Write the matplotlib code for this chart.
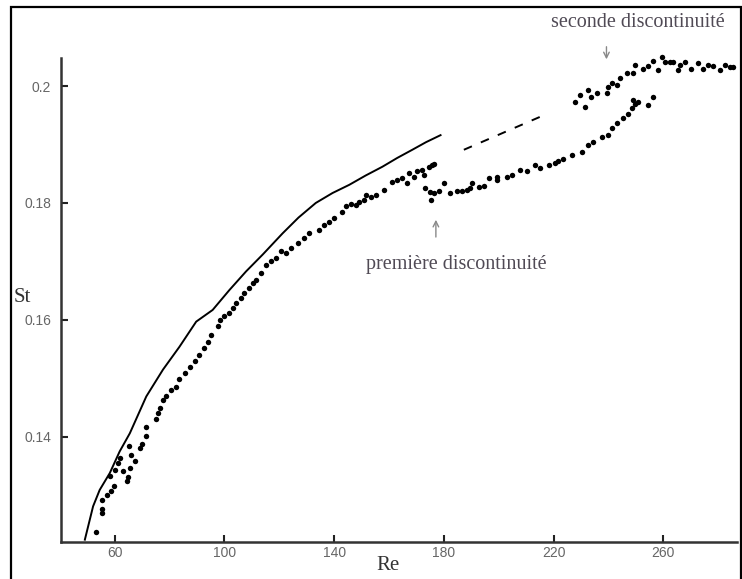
import matplotlib.pyplot as plt
from matplotlib.patches import Rectangle

# solid curve (numerical / fit)
re_line = [49.1, 52.1, 54.5, 58.2, 61.8, 65.5, 71.5, 77.6, 83.6, 89.7, 95.7, 101.8,
           107.9, 114.0, 121.2, 127.0, 133.3, 139.4, 145.5, 151.5, 157.6, 163.0,
           168.5, 173.5, 178.8]
st_line = [0.1224, 0.1281, 0.1309, 0.1338, 0.1375, 0.1406, 0.1469, 0.1515, 0.1554,
           0.1597, 0.1617, 0.1651, 0.1683, 0.1712, 0.1748, 0.1775, 0.1800, 0.1817,
           0.1831, 0.1847, 0.1862, 0.1877, 0.1891, 0.1904, 0.1916]

# dashed segment
re_dash = [187.3, 216.4]
st_dash = [0.1891, 0.1950]

# measured points
re_pts = [53.1, 55.4, 55.4, 55.2, 57.0, 58.8, 59.6, 58.4, 60.0, 61.2, 61.8, 63.0,
          64.3, 64.8, 65.5, 67.3, 66.1, 65.2, 69.1, 70.1, 71.5, 71.5, 74.9, 75.7,
          76.4, 77.6, 78.8, 80.6, 82.4, 83.6, 85.5, 87.3, 89.1, 90.9, 92.7, 93.9,
          95.2, 97.6, 98.2, 100.0, 101.8, 103.0, 104.2, 106.1, 107.3, 109.1, 110.3,
          111.5, 113.4, 115.2, 117.0, 118.8, 120.6, 122.4, 124.2, 126.7, 129.1,
          130.9, 134.5, 136.4, 138.2, 140.0, 143.0, 144.3, 146.1, 147.9, 149.1,
          150.9, 151.5, 153.3, 155.2, 158.2, 161.2, 163.0, 164.8, 166.6, 167.3,
          169.1, 170.3, 172.1, 172.7, 174.5, 175.8, 176.4,
          173.3, 175.1, 175.5, 176.4, 178.2, 180.0, 182.4, 184.8, 186.6, 188.5,
          189.7, 190.3, 192.7, 194.5, 196.4, 199.4, 199.4, 203.0, 204.8, 207.9,
          210.3, 213.3, 215.1, 218.2, 220.6, 221.8, 223.6, 226.6, 230.3, 232.7,
          234.5, 237.6, 240.0, 241.2, 243.0, 245.5, 247.3, 248.5, 249.7, 249.1,
          250.9, 254.5, 256.4,
          227.9, 229.7, 231.5, 232.7, 233.7, 235.8, 239.4, 240.0, 241.2, 243.0,
          244.2, 246.7, 249.1, 249.7, 252.7, 254.5, 256.4, 258.2, 259.4, 260.6,
          262.4, 263.6, 265.5, 266.1, 267.9, 270.3, 272.7, 274.5, 276.4, 278.2,
          280.6, 282.4, 284.2, 285.5]
st_pts = [0.1237, 0.1277, 0.1269, 0.1291, 0.1301, 0.1307, 0.1316, 0.1333, 0.1344,
          0.1355, 0.1364, 0.1341, 0.1324, 0.1332, 0.1347, 0.1358, 0.1368, 0.1385,
          0.1381, 0.1387, 0.1401, 0.1416, 0.1430, 0.1441, 0.1449, 0.1463, 0.1469,
          0.1480, 0.1486, 0.1498, 0.1509, 0.1520, 0.1529, 0.1540, 0.1552, 0.1563,
          0.1574, 0.1589, 0.1600, 0.1606, 0.1612, 0.1620, 0.1629, 0.1637, 0.1646,
          0.1654, 0.1663, 0.1668, 0.1681, 0.1694, 0.1700, 0.1706, 0.1717, 0.1714,
          0.1723, 0.1731, 0.1740, 0.1748, 0.1754, 0.1762, 0.1768, 0.1774, 0.1785,
          0.1794, 0.1799, 0.1797, 0.1802, 0.1805, 0.1814, 0.1811, 0.1814, 0.1822,
          0.1836, 0.1839, 0.1842, 0.1834, 0.1851, 0.1845, 0.1854, 0.1856, 0.1848,
          0.1862, 0.1865, 0.1867,
          0.1825, 0.1819, 0.1805, 0.1817, 0.1820, 0.1834, 0.1817, 0.1820, 0.1820,
          0.1822, 0.1825, 0.1834, 0.1828, 0.1829, 0.1842, 0.1845, 0.1839, 0.1845,
          0.1848, 0.1856, 0.1855, 0.1865, 0.1859, 0.1865, 0.1868, 0.1871, 0.1876,
          0.1882, 0.1888, 0.1899, 0.1905, 0.1913, 0.1916, 0.1928, 0.1936, 0.1945,
          0.1953, 0.1962, 0.1970, 0.1976, 0.1973, 0.1968, 0.1982,
          0.1973, 0.1985, 0.1965, 0.1993, 0.1982, 0.1988, 0.1988, 0.1999, 0.2005,
          0.2002, 0.2013, 0.2022, 0.2022, 0.2036, 0.2030, 0.2034, 0.2043, 0.2027,
          0.2050, 0.2042, 0.2042, 0.2042, 0.2027, 0.2036, 0.2042, 0.2030, 0.2039,
          0.2030, 0.2036, 0.2034, 0.2027, 0.2036, 0.2033, 0.2032]

x_ticks = [60, 100, 140, 180, 220, 260]
y_ticks = [0.14, 0.16, 0.18, 0.2]
y_labels = ['0.14', '0.16', '0.18', '0.2']

fig = plt.figure(figsize=(7.42, 5.79), dpi=100)
ax = fig.add_axes([61 / 742, 1 - 542 / 579, 676 / 742, 484 / 579])

ax.plot(re_line, st_line, color='black', lw=1.4)
ax.plot(re_dash, st_dash, color='black', lw=1.4, dashes=(4.5, 5))
ax.plot(re_pts, st_pts, 'o', color='black', ms=3.9, mec='none', clip_on=False)

ax.set_xlim(40.4, 286.9)
ax.set_ylim(0.122, 0.2048)
ax.spines['top'].set_visible(False)
ax.spines['right'].set_visible(False)
for s in ['left', 'bottom']:
    ax.spines[s].set_linewidth(1.8)
    ax.spines[s].set_color('#333333')

ax.set_xticks(x_ticks)
ax.set_yticks(y_ticks)
ax.set_yticklabels(y_labels)
ax.tick_params(direction='in', length=5, width=1.5, color='#222222',
               labelsize=10, labelcolor='#666666')
ax.tick_params(axis='x', pad=3)
ax.tick_params(axis='y', pad=7)
for lab in ax.get_xticklabels() + ax.get_yticklabels():
    lab.set_family('Liberation Sans')

serif = 'Liberation Serif'
txtc = '#504a55'
ax.text(184.4, 0.1694, 'première discontinuité', family=serif, fontsize=14.5,
        color=txtc, ha='center', va='center')
ax.text(250.9, 0.2109, 'seconde discontinuité', family=serif, fontsize=14.5,
        color=txtc, ha='center', va='center')
ax.annotate('', xy=(177.1, 0.1776), xytext=(177.1, 0.1737),
            arrowprops=dict(arrowstyle='->', color='#888888', lw=1.0))
ax.annotate('', xy=(239.3, 0.2041), xytext=(239.3, 0.2072), annotation_clip=False,
            arrowprops=dict(arrowstyle='->', color='#888888', lw=1.0))

fig.text(388 / 742, 1 - 566 / 579, 'Re', family=serif, fontsize=15,
         color='#333333', ha='center', va='center')
fig.text(22 / 742, 1 - 297 / 579, 'St', family=serif, fontsize=15,
         color='#333333', ha='center', va='center')

# frame around the whole picture
fig.patches.append(Rectangle((11 / 742, -0.01), 730 / 742, 1 - 7 / 579 + 0.01,
                             transform=fig.transFigure, fill=False,
                             edgecolor='black', lw=1.6))

fig.savefig('out.png', dpi=100)
